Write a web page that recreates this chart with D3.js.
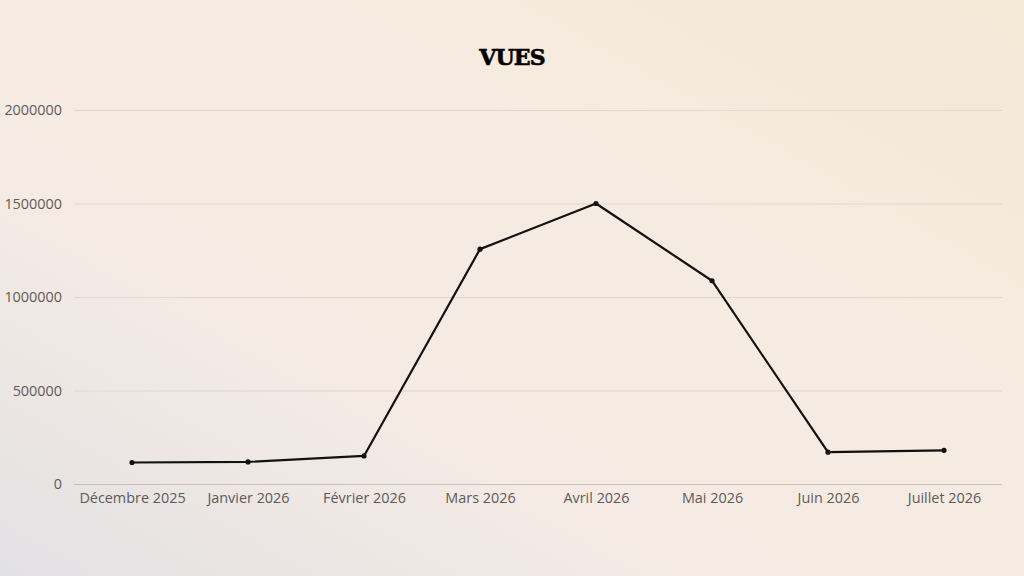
<!DOCTYPE html>
<html>
<head>
<meta charset="utf-8">
<script src="https://cdn.jsdelivr.net/npm/d3@7"></script>
<style>
  html, body { margin: 0; padding: 0; }
  body { width: 1024px; height: 576px; overflow: hidden; }
  svg { display: block; }
</style>
</head>
<body>
<script>
// data
const months = ["Décembre 2025", "Janvier 2026", "Février 2026", "Mars 2026",
                "Avril 2026", "Mai 2026", "Juin 2026", "Juillet 2026"];
const views = [115000, 118000, 150000, 1256000, 1500000, 1087000, 170000, 180000];
const yTicks = [0, 500000, 1000000, 1500000, 2000000];
const title = "VUES";

const width = 1024, height = 576;
const margin = {top: 110, right: 22, bottom: 92, left: 74};

const svg = d3.select("body")
    .append("svg")
    .attr("width", width)
    .attr("height", height)
    .attr("viewBox", [0, 0, width, height]);

// soft background gradient
const grad = svg.append("defs").append("linearGradient")
    .attr("id", "bg")
    .attr("x1", "0%").attr("y1", "100%")
    .attr("x2", "100%").attr("y2", "0%");
grad.append("stop").attr("offset", "0%").attr("stop-color", "#e2e1e4");
grad.append("stop").attr("offset", "35%").attr("stop-color", "#f6ebe4");
grad.append("stop").attr("offset", "65%").attr("stop-color", "#f6ebe0");
grad.append("stop").attr("offset", "100%").attr("stop-color", "#f2e9d6");

svg.append("rect")
    .attr("width", width)
    .attr("height", height)
    .attr("fill", "url(#bg)");

const x = d3.scalePoint()
    .domain(months)
    .range([margin.left, width - margin.right])
    .padding(0.5);

const y = d3.scaleLinear()
    .domain([0, 2000000])
    .range([height - margin.bottom, margin.top]);

const labelFont = "400 14.4px 'Open Sans', sans-serif";

// gridlines + y labels
svg.append("g")
    .attr("transform", `translate(${margin.left},0)`)
    .call(d3.axisLeft(y).tickValues(yTicks).tickFormat(d3.format("d"))
        .tickSize(-(width - margin.left - margin.right)).tickPadding(12))
    .call(g => g.select(".domain").remove())
    .call(g => g.selectAll(".tick line")
        .attr("stroke", d => d === 0 ? "#c7c0bb" : "#e0d7cf")
        .attr("stroke-width", 1))
    .call(g => g.selectAll(".tick text")
        .attr("fill", "#5e5a5a")
        .style("font", labelFont));

// x labels
svg.append("g")
    .attr("transform", `translate(0,${height - margin.bottom})`)
    .call(d3.axisBottom(x).tickSize(0).tickPadding(9))
    .call(g => g.select(".domain").remove())
    .call(g => g.selectAll(".tick text")
        .attr("fill", "#5e5a5a")
        .style("font", labelFont));

const line = d3.line()
    .x((d, i) => x(months[i]))
    .y(d => y(d));

svg.append("path")
    .datum(views)
    .attr("fill", "none")
    .attr("stroke", "#111")
    .attr("stroke-width", 2.2)
    .attr("stroke-linejoin", "round")
    .attr("d", line);

svg.append("g")
    .selectAll("circle")
    .data(views)
    .join("circle")
    .attr("cx", (d, i) => x(months[i]))
    .attr("cy", d => y(d))
    .attr("r", 2.6)
    .attr("fill", "#111");

svg.append("text")
    .attr("x", width / 2)
    .attr("y", 65)
    .attr("text-anchor", "middle")
    .attr("fill", "#000")
    .style("font", "bold 22px 'DejaVu Serif', serif")
    .style("letter-spacing", "-0.8px")
    .style("stroke", "#000")
    .style("stroke-width", "0.6px")
    .text(title);
</script>
</body>
</html>
